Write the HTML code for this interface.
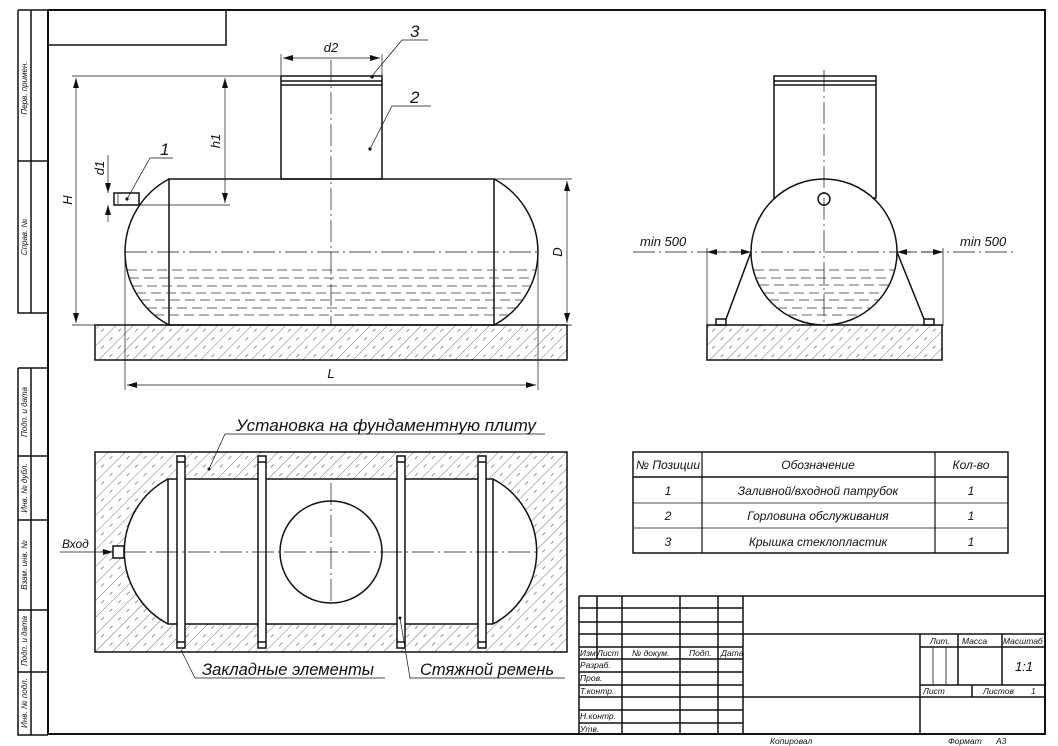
<!DOCTYPE html>
<html><head><meta charset="utf-8">
<style>
html,body{margin:0;padding:0;background:#fff;}
svg{display:block;}
text{font-family:"Liberation Sans","DejaVu Sans",sans-serif;font-style:italic;fill:#111;}
</style></head>
<body>
<svg width="1058" height="746" viewBox="0 0 1058 746" xmlns="http://www.w3.org/2000/svg">
<defs>
<pattern id="h" width="12" height="12" patternUnits="userSpaceOnUse" patternTransform="rotate(45)">
<line x1="0" y1="0" x2="0" y2="12" stroke="#555" stroke-width="0.8"/>
<line x1="6" y1="3" x2="6" y2="7" stroke="#777" stroke-width="0.8"/>
</pattern>
<marker id="a" viewBox="0 0 10 6" refX="10" refY="3" markerWidth="10" markerHeight="6" orient="auto-start-reverse" markerUnits="userSpaceOnUse">
<path d="M0 0 L10 3 L0 6 z" fill="#111"/></marker>
</defs>
<g fill="none" stroke="#111">
<rect x="48" y="10" width="997" height="724" stroke-width="2"/>
<rect x="48" y="10" width="178" height="35" stroke-width="1.5"/>
<path d="M18 10 V313 H48 M31 10 V313 M18 10 H48 M18 161 H48" stroke-width="1.5"/>
<path d="M18 368 H48 M18 368 V735 H48 M31 368 V735 M18 456 H48 M18 520 H48 M18 610 H48 M18 672 H48" stroke-width="1.5"/>
</g>
<g font-size="8">
<text transform="translate(27,88) rotate(-90)" text-anchor="middle">Перв. примен.</text>
<text transform="translate(27,237) rotate(-90)" text-anchor="middle">Справ. №</text>
<text transform="translate(27,412) rotate(-90)" text-anchor="middle">Подп. и дата</text>
<text transform="translate(27,488) rotate(-90)" text-anchor="middle">Инв. № дубл.</text>
<text transform="translate(27,565) rotate(-90)" text-anchor="middle">Взам. инв. №</text>
<text transform="translate(27,641) rotate(-90)" text-anchor="middle">Подп. и дата</text>
<text transform="translate(27,703) rotate(-90)" text-anchor="middle">Инв. № подл.</text>
</g>

<rect x="95" y="325" width="472" height="35" fill="url(#h)" stroke="#111" stroke-width="1.5"/>
<g fill="none" stroke="#111" stroke-width="1.5">
<rect x="281" y="76" width="101" height="103"/>
<path d="M281 81 H382 M281 85 H382"/>
<path d="M169 179 H494 V325 H169 Z"/>
<path d="M169 179 A82.6 82.6 0 0 0 169 325 M494 179 A82.6 82.6 0 0 1 494 325"/>
<rect x="114" y="193" width="25" height="12"/>
</g>
<g stroke="#111" stroke-width="0.7" fill="none">
<path d="M331 60 V325" stroke-dasharray="22 4 2 4"/>
<path d="M125 252 H538" stroke-dasharray="22 4 2 4"/>
<g stroke-dasharray="10 5" stroke="#333">
<path d="M127 270H536 M129 278H534 M132 286H531 M136 293H527 M140 300H523 M147 308H516 M154 315H509"/>
</g>
<path d="M118 194 V204" />
<path d="M72 76 H281 M72 325 H95 M567 325 H572 M494 179 H572 M114 205 H230 M281 54 V76 M382 54 V76 M125 252 V390 M538 252 V390"/>
<path d="M76 78 V323" marker-start="url(#a)" marker-end="url(#a)"/>
<path d="M225 78 V203" marker-start="url(#a)" marker-end="url(#a)"/>
<path d="M283 58 H380" marker-start="url(#a)" marker-end="url(#a)"/>
<path d="M567 181 V323" marker-start="url(#a)" marker-end="url(#a)"/>
<path d="M127 385 H536" marker-start="url(#a)" marker-end="url(#a)"/>
<path d="M108 155 V193" marker-end="url(#a)"/>
<path d="M108 222 V205" marker-end="url(#a)"/>
<path d="M127 199 L150 158 H173 M370 149 L392 106 H431 M372 76 L402 40 H428"/>
</g>
<g fill="#111"><circle cx="127" cy="199" r="1.6"/><circle cx="370" cy="149" r="1.6"/><circle cx="372" cy="77" r="1.6"/></g>
<g font-size="13">
<text x="331" y="52" text-anchor="middle">d2</text>
<text transform="translate(72,200) rotate(-90)" text-anchor="middle">H</text>
<text transform="translate(220,141) rotate(-90)" text-anchor="middle">h1</text>
<text transform="translate(104,168) rotate(-90)" text-anchor="middle">d1</text>
<text transform="translate(562,252) rotate(-90)" text-anchor="middle">D</text>
<text x="331" y="378" text-anchor="middle">L</text>
<text x="160" y="155" font-size="17">1</text>
<text x="410" y="103" font-size="17">2</text>
<text x="410" y="37" font-size="17">3</text>
</g>

<rect x="707" y="325" width="235" height="35" fill="url(#h)" stroke="#111" stroke-width="1.5"/>
<g fill="none" stroke="#111" stroke-width="1.5">
<rect x="774" y="76" width="102" height="122" fill="#fff"/>
<path d="M774 81 H876 M774 85 H876"/>
<circle cx="824" cy="252" r="73" fill="#fff"/>
<circle cx="824" cy="199" r="6"/>
<path d="M751 252 L726 319 M897 252 L924 319"/>
<rect x="716" y="319" width="10" height="6"/>
<rect x="924" y="319" width="10" height="6"/>
</g>
<g stroke="#111" stroke-width="0.7" fill="none">
<path d="M824 70 V326" stroke-dasharray="22 4 2 4"/>
<path d="M633 252 H1016" stroke-dasharray="22 4 2 4"/>
<path d="M707 248 V326 M943 248 V326"/>
<path d="M727 252 H707" marker-end="url(#a)"/>
<path d="M731 252 H751" marker-end="url(#a)"/>
<path d="M921 252 H943" marker-end="url(#a)"/>
<path d="M917 252 H897" marker-end="url(#a)"/>
<g stroke-dasharray="10 5" stroke="#333">
<path d="M754 270H894 M756 278H892 M759 285H889 M764 293H884 M769 300H879 M777 308H871 M787 315H861"/>
</g>
</g>
<g font-size="13"><text x="640" y="246">min 500</text><text x="960" y="246">min 500</text></g>

<rect x="95" y="452" width="472" height="200" fill="url(#h)" stroke="#111" stroke-width="1.5"/>
<g stroke="#111" stroke-width="1.5">
<path d="M168 479 H493 A82 82 0 0 1 493 624 H168 A82 82 0 0 1 168 479 Z" fill="#fff"/>
<path d="M168 479 V624 M493 479 V624" fill="none"/>
<rect x="113" y="546" width="11" height="12" fill="#fff"/>
<circle cx="331" cy="552" r="51" fill="none"/>
<g fill="#fff">
<rect x="177" y="456" width="8" height="192"/><rect x="258" y="456" width="8" height="192"/>
<rect x="397" y="456" width="8" height="192"/><rect x="478" y="456" width="8" height="192"/>
</g>
<path d="M177 462H185 M177 642H185 M258 462H266 M258 642H266 M397 462H405 M397 642H405 M478 462H486 M478 642H486" fill="none"/>
</g>
<g stroke="#111" stroke-width="0.7" fill="none">
<path d="M124 552 H538" stroke-dasharray="22 4 2 4"/>
<path d="M331 483 V605" stroke-dasharray="22 4 2 4"/>
<path d="M60 552 H113" marker-end="url(#a)"/>
<path d="M209 469 L225 434 H545 M181 650 L195 678 H385 M400 618 L410 678 H565"/>
</g>
<g fill="#111"><circle cx="209" cy="469" r="1.5"/><circle cx="400" cy="618" r="1.5"/></g>
<g font-size="17">
<text x="236" y="431" textLength="300" lengthAdjust="spacingAndGlyphs">Установка на фундаментную плиту</text>
<text x="202" y="675" textLength="172" lengthAdjust="spacingAndGlyphs">Закладные элементы</text>
<text x="420" y="675" textLength="134" lengthAdjust="spacingAndGlyphs">Стяжной ремень</text>
<text x="62" y="548" font-size="12">Вход</text>
</g>

<g fill="none" stroke="#111">
<rect x="633" y="452" width="375" height="101" stroke-width="1.5"/>
<path d="M633 477 H1008" stroke-width="1.5"/>
<path d="M633 503 H1008 M633 528 H1008" stroke-width="0.8"/>
<path d="M702 452 V553 M935 452 V553" stroke-width="1.2"/>
</g>
<g font-size="12" text-anchor="middle">
<text x="668" y="469">№ Позиции</text><text x="818" y="469">Обозначение</text><text x="971" y="469">Кол-во</text>
<text x="668" y="495">1</text><text x="818" y="495">Заливной/входной патрубок</text><text x="971" y="495">1</text>
<text x="668" y="520">2</text><text x="818" y="520">Горловина обслуживания</text><text x="971" y="520">1</text>
<text x="668" y="546">3</text><text x="818" y="546">Крышка стеклопластик</text><text x="971" y="546">1</text>
</g>

<g fill="none" stroke="#111" stroke-width="1.5">
<path d="M579 596 H1045 M579 596 V734"/>
<path d="M579 608 H743 M579 622 H743 M579 634 H1045 M579 647 H743 M579 659 H743 M579 672 H743 M579 685 H743 M579 697 H1045 M579 710 H743 M579 723 H743"/>
<path d="M597 596 V659 M622 596 V734 M680 596 V734 M718 596 V734 M743 596 V734"/>
<path d="M920 634 V734 M920 647 H1045 M920 685 H1045 M958 634 V685 M1002 634 V685 M972 685 V697"/>
<path d="M933 647 V685 M946 647 V685" stroke-width="0.8"/>
</g>
<g font-size="8.5">
<text x="580" y="656">Изм.</text><text x="597" y="656">Лист</text><text x="632" y="656">№ докум.</text><text x="689" y="656">Подп.</text><text x="721" y="656">Дата</text>
<text x="580" y="668">Разраб.</text><text x="580" y="681">Пров.</text><text x="580" y="694">Т.контр.</text>
<text x="580" y="719">Н.контр.</text><text x="580" y="732">Утв.</text>
<text x="930" y="644">Лит.</text><text x="962" y="644">Масса</text><text x="1003" y="644">Масштаб</text>
<text x="923" y="694">Лист</text><text x="983" y="694">Листов</text><text x="1031" y="694">1</text>
<text x="770" y="744">Копировал</text><text x="948" y="744">Формат</text><text x="996" y="744">А3</text>
</g>
<text x="1024" y="671" font-size="13" text-anchor="middle">1:1</text>
</svg>
</body></html>
